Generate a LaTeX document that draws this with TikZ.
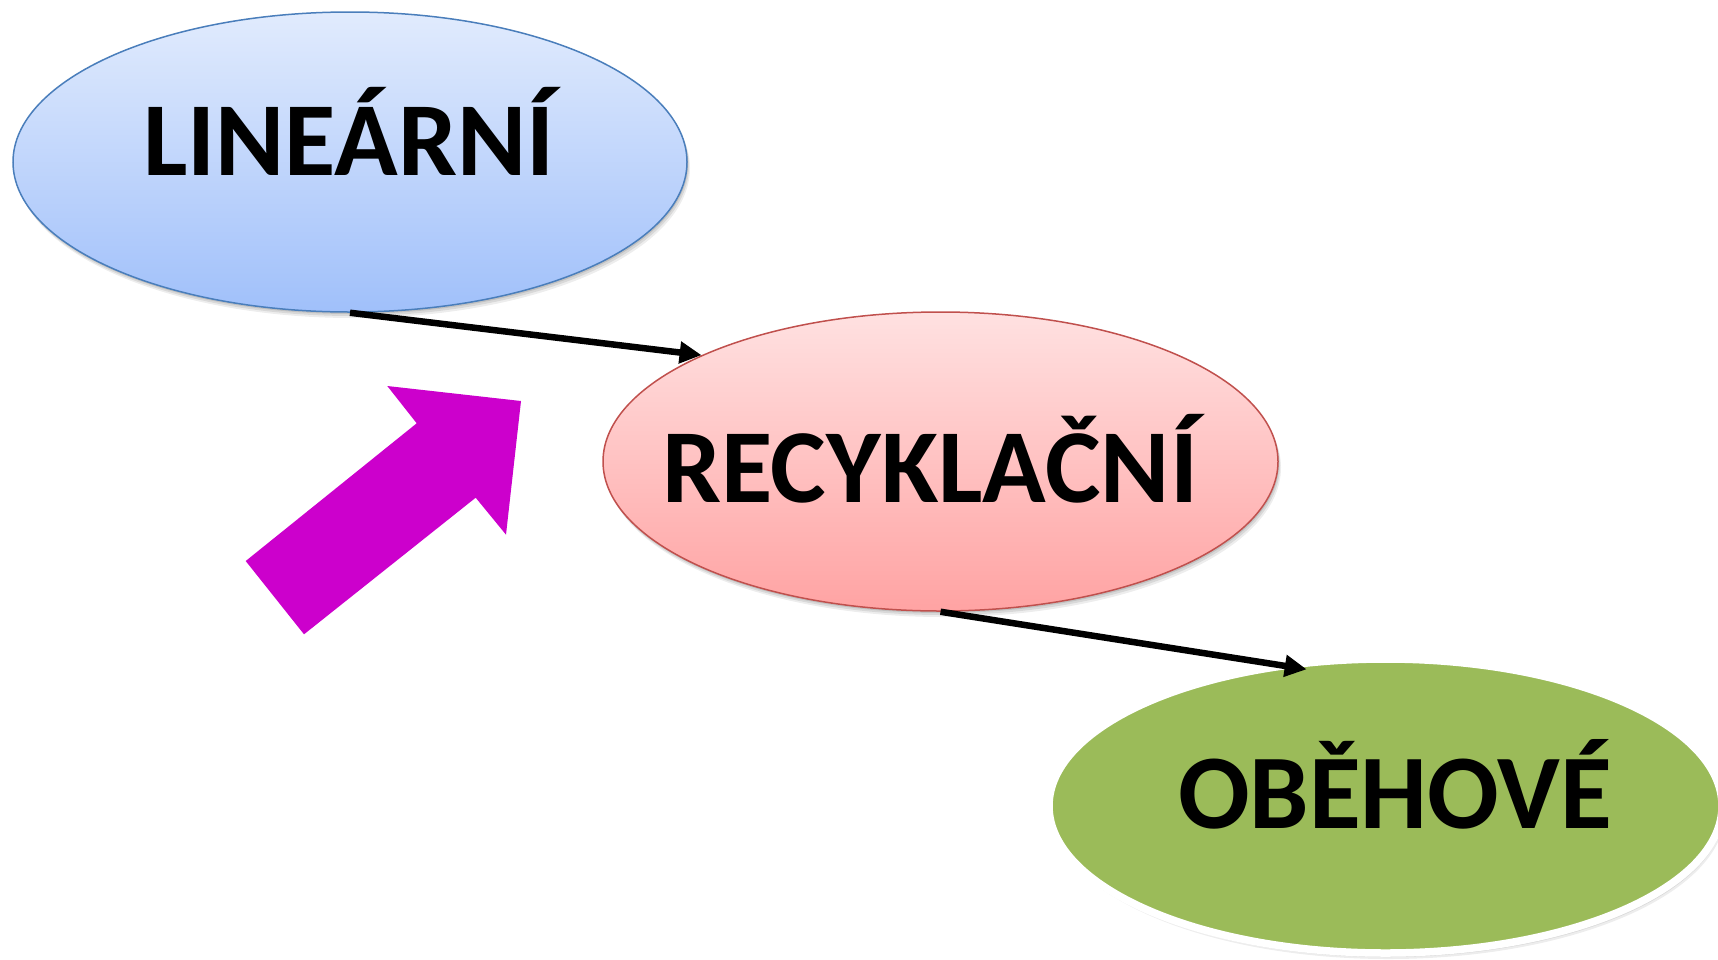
\documentclass[tikz,border=0pt]{standalone}
\usepackage{fontspec}
\setmainfont{Carlito}
\usetikzlibrary{arrows.meta,shapes.geometric,shadows}
\definecolor{blueTop}{HTML}{E1EBFD}
\definecolor{blueBot}{HTML}{A0C0FA}
\definecolor{blueEdge}{HTML}{4A7EBB}
\definecolor{pinkTop}{HTML}{FFE1E1}
\definecolor{pinkBot}{HTML}{FFA3A3}
\definecolor{pinkEdge}{HTML}{C0504D}
\definecolor{greenFill}{HTML}{9BBB59}
\definecolor{magentaFill}{HTML}{CC00CC}
\begin{document}
\begin{tikzpicture}[x=1pt,y=-1pt,
  oval/.style={ellipse, inner sep=0pt},
  softshadow/.style={
    drop shadow={shadow xshift=1pt, shadow yshift=-2pt, opacity=0.10, fill=black},
    drop shadow={shadow xshift=2pt, shadow yshift=-4pt, opacity=0.09, fill=black},
    drop shadow={shadow xshift=3pt, shadow yshift=-6pt, opacity=0.07, fill=black}},
  lbl/.style={font=\fontsize{105}{118}\selectfont\bfseries, anchor=base, inner sep=0pt},
  conn/.style={line width=6.5pt, line cap=butt, -{Triangle[length=22pt,width=21pt]}},
]
\useasboundingbox (0,0) rectangle (1718,959);
% ellipses
\node[oval, minimum width=674pt, minimum height=300pt, draw=blueEdge, line width=1.5pt,
      top color=blueTop, bottom color=blueBot, softshadow] (lin) at (350,162) {};
\node[oval, minimum width=675pt, minimum height=299pt, draw=pinkEdge, line width=1.5pt,
      top color=pinkTop, bottom color=pinkBot, softshadow] (rec) at (940.5,461.5) {};
\node[oval, minimum width=673pt, minimum height=294pt, draw=white, line width=7.5pt,
      fill=greenFill, softshadow] (obe) at (1385.5,806) {};
% labels
\node[lbl] (linT) at (349,175) {LINEÁRNÍ};
\node[lbl] (recT) at (930,502) {RECYKLAČNÍ};
\node[lbl, font=\fontsize{106}{119}\selectfont\bfseries] (obeT) at (1395,828) {OBĚHOVÉ};
% connectors
\draw[conn] (lin.south) -- (rec.156);
\draw[conn] (rec.south) -- ([shift={(-78.8,-136.7)}]obe.center);
% magenta block arrow
\fill[magentaFill] (245.7,561) -- (416.7,423.3) -- (387.3,386) -- (521,401)
  -- (506,534.7) -- (475.7,497.7) -- (304,634.3) -- cycle;
\end{tikzpicture}
\end{document}
